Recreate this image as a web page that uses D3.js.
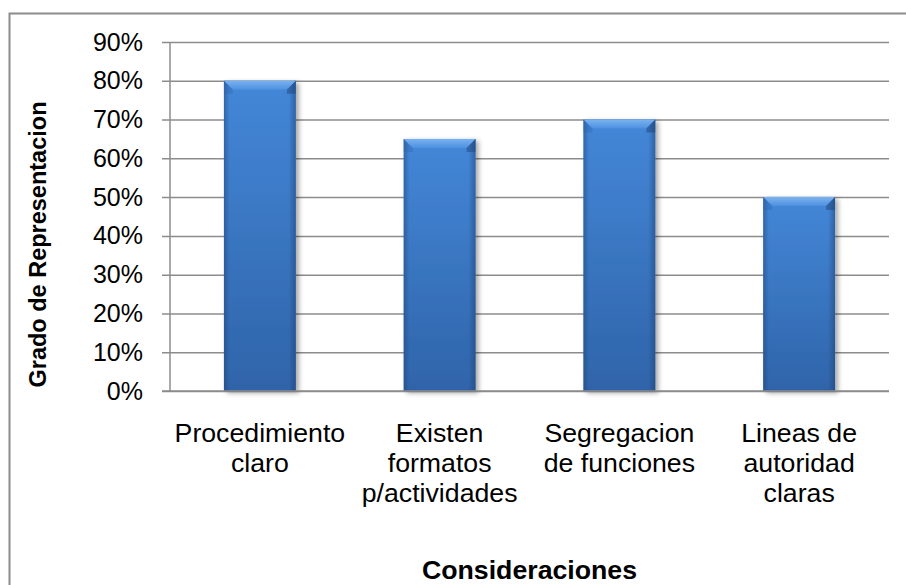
<!DOCTYPE html>
<html>
<head>
<meta charset="utf-8">
<script src="https://cdn.jsdelivr.net/npm/d3@7"></script>
<style>
  html, body { margin: 0; padding: 0; background: #fff; }
  svg { display: block; font-family: "Liberation Sans", Arial, sans-serif; }
</style>
</head>
<body>
<svg id="chart" width="906" height="585"></svg>
<script>
// Categories (multi-line labels) and their values
const categories = [
  ["Procedimiento", "claro"],
  ["Existen", "formatos", "p/actividades"],
  ["Segregacion", "de funciones"],
  ["Lineas de", "autoridad", "claras"]
];
const values = [0.80, 0.65, 0.70, 0.50];
const yTicks = [0, 0.1, 0.2, 0.3, 0.4, 0.5, 0.6, 0.7, 0.8, 0.9];
const xTitle = "Consideraciones";
const yTitle = "Grado de Representacion";

const svg = d3.select("#chart");
const margin = { left: 170, top: 42, right: 17, bottom: 194 };
const W = 906, H = 585;
const w = W - margin.left - margin.right;
const h = H - margin.top - margin.bottom;

// Outer chart frame
svg.append("rect")
  .attr("x", 9.5).attr("y", 13.5)
  .attr("width", 920).attr("height", 620)
  .attr("fill", "#fff").attr("stroke", "#8c8c8c").attr("stroke-width", 2);

const defs = svg.append("defs");
const body = defs.append("linearGradient").attr("id", "barBody")
  .attr("x1", 0).attr("y1", 0).attr("x2", 0).attr("y2", 1);
body.append("stop").attr("offset", "0%").attr("stop-color", "#4487d8");
body.append("stop").attr("offset", "100%").attr("stop-color", "#2f64a9");

const sides = defs.append("linearGradient").attr("id", "barSides")
  .attr("x1", 0).attr("y1", 0).attr("x2", 1).attr("y2", 0);
sides.append("stop").attr("offset", "0%").attr("stop-color", "#1c3f70").attr("stop-opacity", 0.45);
sides.append("stop").attr("offset", "8%").attr("stop-color", "#1c3f70").attr("stop-opacity", 0);
sides.append("stop").attr("offset", "90%").attr("stop-color", "#1c3f70").attr("stop-opacity", 0);
sides.append("stop").attr("offset", "100%").attr("stop-color", "#1c3f70").attr("stop-opacity", 0.5);

const bevel = defs.append("linearGradient").attr("id", "barBevel")
  .attr("x1", 0).attr("y1", 0).attr("x2", 0).attr("y2", 1);
bevel.append("stop").attr("offset", "0%").attr("stop-color", "#7ab2f0");
bevel.append("stop").attr("offset", "100%").attr("stop-color", "#4d90e0");

const shadow = defs.append("filter").attr("id", "shadow")
  .attr("x", "-20%").attr("y", "-10%").attr("width", "150%").attr("height", "130%");
shadow.append("feDropShadow").attr("dx", 3).attr("dy", 2)
  .attr("stdDeviation", 2.5).attr("flood-color", "#000").attr("flood-opacity", 0.35);

const g = svg.append("g").attr("transform", `translate(${margin.left},${margin.top})`);

const x = d3.scaleBand().domain(d3.range(categories.length))
  .range([0, w]).paddingInner(0.6).paddingOuter(0.3);
const y = d3.scaleLinear().domain([0, 0.9]).range([h, 0]);

// Horizontal gridlines with short ticks left of the axis
const yAxis = d3.axisLeft(y).tickValues(yTicks).tickFormat(d3.format(".0%"))
  .tickSize(-w).tickPadding(0);
const ya = g.append("g").call(yAxis);
ya.select(".domain").remove();
ya.selectAll(".tick line")
  .attr("x1", -8).attr("stroke", "#8c8c8c").attr("stroke-width", 1.5);
ya.selectAll(".tick text")
  .attr("x", -27).attr("font-size", 25).attr("fill", "#000")
  .attr("font-family", "Liberation Sans, Arial, sans-serif");

// Vertical axis line
g.append("line").attr("x1", 0).attr("x2", 0).attr("y1", 0).attr("y2", h)
  .attr("stroke", "#8c8c8c").attr("stroke-width", 1.5);

// Bars
const bars = g.selectAll(".bar").data(values).join("g").attr("class", "bar");
bars.append("rect")
  .attr("x", (d, i) => x(i)).attr("y", d => y(d))
  .attr("width", x.bandwidth()).attr("height", d => h - y(d))
  .attr("fill", "url(#barBody)").attr("filter", "url(#shadow)");
bars.append("rect")
  .attr("x", (d, i) => x(i)).attr("y", d => y(d))
  .attr("width", x.bandwidth()).attr("height", d => h - y(d))
  .attr("fill", "url(#barSides)");
// Top bevel
const bv = 9;
bars.append("path")
  .attr("d", (d, i) => {
    const x0 = x(i), x1 = x(i) + x.bandwidth(), t = y(d);
    return `M${x0},${t}L${x1},${t}L${x1 - bv},${t + bv}L${x0 + bv},${t + bv}Z`;
  })
  .attr("fill", "url(#barBevel)");
bars.append("path")
  .attr("d", (d, i) => {
    const x0 = x(i), t = y(d);
    return `M${x0},${t}L${x0 + bv},${t + bv}L${x0 + bv},${t + bv + 4}L${x0},${t + bv + 4}Z`;
  })
  .attr("fill", "#2f64a9").attr("opacity", 0.35);
bars.append("path")
  .attr("d", (d, i) => {
    const x1 = x(i) + x.bandwidth(), t = y(d);
    return `M${x1},${t}L${x1 - bv},${t + bv}L${x1 - bv},${t + bv + 4}L${x1},${t + bv + 4}Z`;
  })
  .attr("fill", "#1c3f70").attr("opacity", 0.45);

// Baseline
g.append("line").attr("x1", -8).attr("x2", w).attr("y1", h).attr("y2", h)
  .attr("stroke", "#8c8c8c").attr("stroke-width", 1.5);

// Category labels
const cl = g.selectAll(".cat").data(categories).join("text").attr("class", "cat")
  .attr("text-anchor", "middle").attr("font-size", 26.7).attr("fill", "#000")
  .attr("transform", (d, i) => `translate(${x(i) + x.bandwidth() / 2},${h + 51})`);
cl.selectAll("tspan").data(d => d).join("tspan")
  .attr("x", 0).attr("dy", (d, j) => j === 0 ? 0 : 30).text(d => d);

// Axis titles
svg.append("text").attr("x", margin.left + w / 2).attr("y", 579)
  .attr("text-anchor", "middle").attr("font-size", 26.7).attr("font-weight", "bold")
  .text(xTitle);
svg.append("text")
  .attr("transform", `translate(46,${margin.top + h / 2 + 28}) rotate(-90)`)
  .attr("text-anchor", "middle").attr("font-size", 23.5).attr("font-weight", "bold")
  .text(yTitle);
</script>
</body>
</html>
